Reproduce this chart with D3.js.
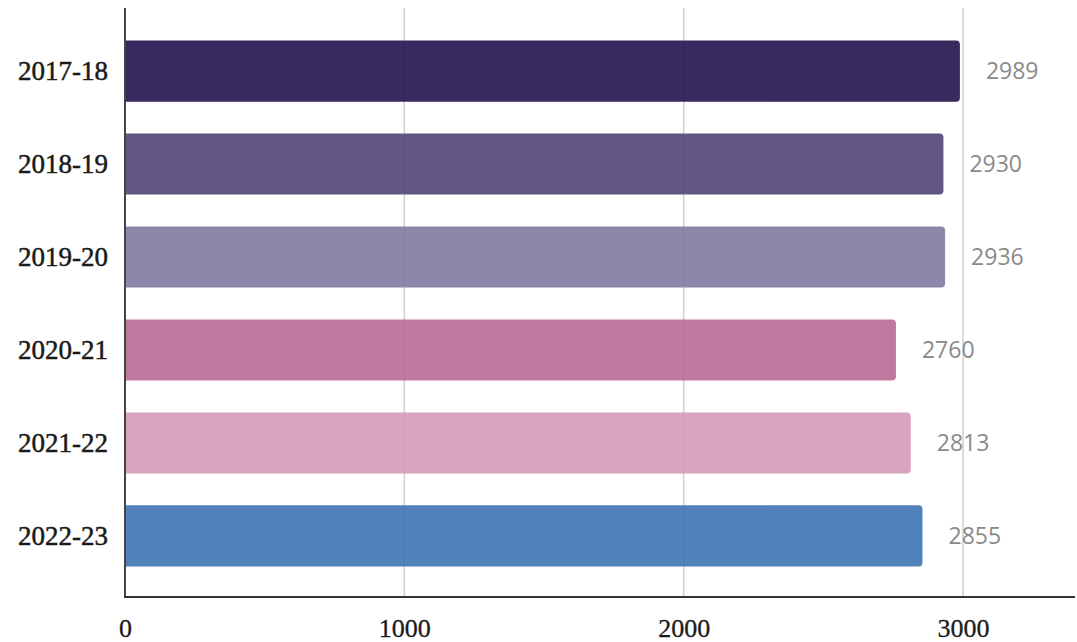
<!DOCTYPE html>
<meta charset="utf-8">
<style>
  body { margin: 0; background: #fff; }
</style>
<script src="https://d3js.org/d3.v7.min.js"></script>
<div id="chart"></div>
<script>

// data
var years = ["2017-18", "2018-19", "2019-20", "2020-21", "2021-22", "2022-23"];
var values = [2989, 2930, 2936, 2760, 2813, 2855];
var barColors = ["#261850", "#56487a", "#867da2", "#ba6f97", "#d49bba", "#4377b6"];
var xTicks = [0, 1000, 2000, 3000];

var width = 1077, height = 642;
var plotLeft = 125, plotRight = 1075, plotTop = 8, plotBottom = 597;

var svg = d3.select("#chart")
  .append("svg")
    .attr("width", width)
    .attr("height", height);

var x = d3.scaleLinear()
  .domain([0, 3401])
  .range([plotLeft, plotRight]);

var y = d3.scaleBand()
  .domain(years)
  .range([plotTop + 1, plotBottom + 1])
  .paddingInner(0.343)
  .paddingOuter(0.34);

// vertical gridlines
svg.append("g")
  .selectAll("line")
  .data(xTicks.slice(1))
  .enter()
  .append("line")
    .attr("x1", function(d) { return x(d); })
    .attr("x2", function(d) { return x(d); })
    .attr("y1", plotTop)
    .attr("y2", plotBottom)
    .attr("stroke", "#cfcfcf")
    .attr("stroke-width", 1.5);

// bars (slightly see-through, grid shows behind them)
var rows = years.map(function(d, i) { return { year: d, value: values[i], color: barColors[i] }; });

svg.append("g")
  .selectAll("path")
  .data(rows)
  .enter()
  .append("path")
    .attr("d", function(d) {
      var x0 = x(0), x1 = x(d.value), y0 = y(d.year), h = y.bandwidth(), r = 4;
      return "M" + x0 + "," + y0 +
        "H" + (x1 - r) + "Q" + x1 + "," + y0 + " " + x1 + "," + (y0 + r) +
        "V" + (y0 + h - r) + "Q" + x1 + "," + (y0 + h) + " " + (x1 - r) + "," + (y0 + h) +
        "H" + x0 + "Z";
    })
    .attr("fill", function(d) { return d.color; })
    .attr("fill-opacity", 0.92);

// value labels
svg.append("g")
  .selectAll("text")
  .data(rows)
  .enter()
  .append("text")
    .attr("x", function(d) { return x(d.value) + 26; })
    .attr("y", function(d) { return y(d.year) + y.bandwidth() / 2; })
    .attr("dy", "0.36em")
    .attr("font-family", "Open Sans, sans-serif")
    .attr("font-size", 23)
    .attr("fill", "#8a8a8a")
    .text(function(d) { return d.value; });

// y axis
var yAxis = svg.append("g")
  .attr("transform", "translate(" + plotLeft + ",0)")
  .call(d3.axisLeft(y).tickSize(0).tickPadding(17));
yAxis.select(".domain").remove();
yAxis.selectAll("text")
  .attr("font-family", "Liberation Serif, serif")
  .attr("font-size", 27)
  .attr("fill", "#1a1a1a")
  .attr("stroke", "#1a1a1a")
  .attr("stroke-width", 0.5);
svg.append("line")
  .attr("x1", plotLeft).attr("x2", plotLeft)
  .attr("y1", plotTop).attr("y2", plotBottom)
  .attr("stroke", "#444")
  .attr("stroke-width", 2);

// x axis
var xAxis = svg.append("g")
  .attr("transform", "translate(0," + plotBottom + ")")
  .call(d3.axisBottom(x).tickValues(xTicks).tickFormat(d3.format("d")).tickSize(0).tickPadding(22));
xAxis.select(".domain").remove();
xAxis.selectAll("text")
  .attr("font-family", "Liberation Serif, serif")
  .attr("font-size", 26)
  .attr("fill", "#1a1a1a")
  .attr("stroke", "#1a1a1a")
  .attr("stroke-width", 0.3);
svg.append("line")
  .attr("x1", plotLeft - 1).attr("x2", plotRight)
  .attr("y1", plotBottom).attr("y2", plotBottom)
  .attr("stroke", "#333")
  .attr("stroke-width", 2);

</script>
